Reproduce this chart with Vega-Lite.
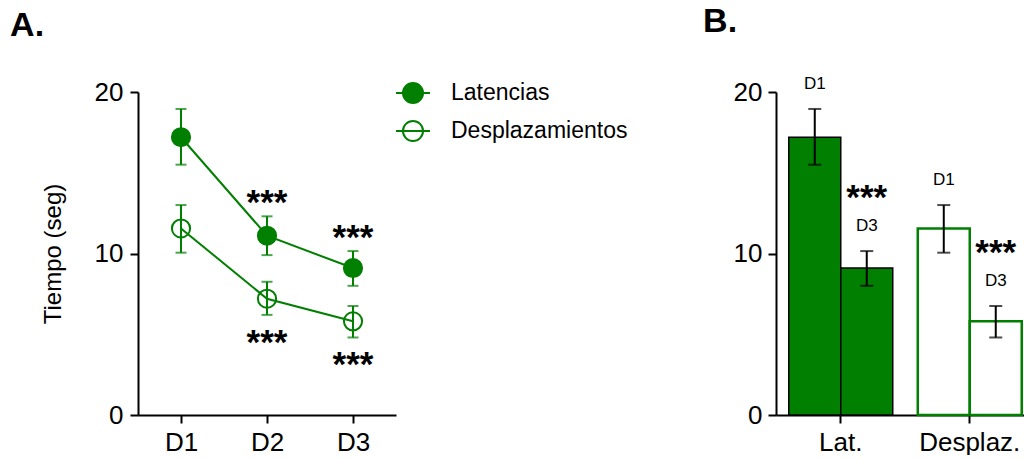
{
  "$schema": "https://vega.github.io/schema/vega-lite/v6.json",
  "background": "white",
  "padding": {"left": 10, "top": 4, "right": 0, "bottom": 0},
  "spacing": 307,
  "config": {
    "font": "Liberation Sans",
    "view": {"stroke": null},
    "axis": {
      "domainColor": "black",
      "domainWidth": 2,
      "tickColor": "black",
      "tickWidth": 2,
      "tickSize": 8,
      "labelFont": "Liberation Sans",
      "labelFontSize": 26,
      "labelColor": "black",
      "grid": false,
      "titleFont": "Liberation Sans",
      "titleFontWeight": "normal",
      "titleFontSize": 24,
      "titleColor": "black"
    },
    "title": {
      "font": "Liberation Sans",
      "fontSize": 34,
      "fontWeight": "bold",
      "color": "black",
      "anchor": "start",
      "frame": "bounds",
      "offset": 36
    }
  },
  "datasets": {
    "tiempos": [
      {"serie": "Latencias", "grupo": "Lat.", "dia": "D1", "media": 17.2, "inf": 15.5, "sup": 18.95, "sig": ""},
      {"serie": "Latencias", "grupo": "Lat.", "dia": "D2", "media": 11.1, "inf": 9.9, "sup": 12.3, "sig": "***"},
      {"serie": "Latencias", "grupo": "Lat.", "dia": "D3", "media": 9.1, "inf": 8.0, "sup": 10.15, "sig": "***"},
      {"serie": "Desplazamientos", "grupo": "Desplaz.", "dia": "D1", "media": 11.55, "inf": 10.05, "sup": 13.0, "sig": ""},
      {"serie": "Desplazamientos", "grupo": "Desplaz.", "dia": "D2", "media": 7.2, "inf": 6.2, "sup": 8.25, "sig": "***"},
      {"serie": "Desplazamientos", "grupo": "Desplaz.", "dia": "D3", "media": 5.8, "inf": 4.8, "sup": 6.75, "sig": "***"}
    ]
  },
  "hconcat": [
    {
      "title": {"text": "A.", "dx": -31},
      "width": 258,
      "height": 323,
      "data": {"name": "tiempos"},
      "encoding": {
        "x": {
          "field": "dia",
          "type": "ordinal",
          "scale": {"type": "point", "padding": 0.5},
          "axis": {"title": null, "labelAngle": 0, "labelPadding": 6}
        }
      },
      "layer": [
        {
          "mark": {"type": "rule", "color": "#007f00", "strokeWidth": 2},
          "encoding": {
            "y": {
              "field": "inf",
              "type": "quantitative",
              "scale": {"domain": [0, 20], "nice": false},
              "axis": {"title": "Tiempo (seg)", "values": [0, 10, 20], "labelPadding": 7, "titlePadding": 29}
            },
            "y2": {"field": "sup"}
          }
        },
        {
          "mark": {"type": "tick", "orient": "horizontal", "color": "#007f00", "size": 11, "thickness": 2},
          "encoding": {"y": {"field": "sup", "type": "quantitative"}}
        },
        {
          "mark": {"type": "tick", "orient": "horizontal", "color": "#007f00", "size": 11, "thickness": 2},
          "encoding": {"y": {"field": "inf", "type": "quantitative"}}
        },
        {
          "mark": {"type": "line", "color": "#007f00", "strokeWidth": 2},
          "encoding": {
            "y": {"field": "media", "type": "quantitative"},
            "detail": {"field": "serie", "type": "nominal"}
          }
        },
        {
          "mark": {"type": "point", "shape": "circle", "size": 330, "stroke": "#007f00", "strokeWidth": 2, "opacity": 1},
          "encoding": {
            "y": {"field": "media", "type": "quantitative"},
            "fill": {
              "field": "serie",
              "type": "nominal",
              "scale": {"domain": ["Latencias", "Desplazamientos"], "range": ["#007f00", "transparent"]},
              "legend": {
                "title": null,
                "orient": "none",
                "legendX": 257,
                "legendY": -17,
                "padding": 0,
                "symbolType": "M-1,0H1M-0.59,0A0.59,0.59,0,1,1,0.59,0A0.59,0.59,0,1,1,-0.59,0Z",
                "symbolSize": 1156,
                "symbolStrokeWidth": 2,
                "symbolStrokeColor": "#007f00",
                "symbolOffset": 0,
                "labelFont": "Liberation Sans",
                "labelFontSize": 23,
                "labelColor": "black",
                "labelOffset": 20,
                "labelLimit": 400,
                "rowPadding": 5
              }
            }
          }
        },
        {
          "transform": [{"filter": "datum.serie === 'Latencias'"}],
          "mark": {"type": "text", "fontSize": 35, "fontWeight": "bold", "color": "black", "baseline": "middle", "dy": -13},
          "encoding": {
            "y": {"field": "sup", "type": "quantitative"},
            "text": {"field": "sig"}
          }
        },
        {
          "transform": [{"filter": "datum.serie === 'Desplazamientos'"}],
          "mark": {"type": "text", "fontSize": 35, "fontWeight": "bold", "color": "black", "baseline": "middle", "dy": 28},
          "encoding": {
            "y": {"field": "inf", "type": "quantitative"},
            "text": {"field": "sig"}
          }
        }
      ]
    },
    {
      "title": {"text": "B.", "dx": -30},
      "width": 250,
      "height": 323,
      "data": {"name": "tiempos"},
      "transform": [{"filter": "datum.dia !== 'D2'"}],
      "encoding": {
        "x": {
          "field": "grupo",
          "type": "nominal",
          "sort": ["Lat.", "Desplaz."],
          "scale": {"paddingInner": 0.194, "paddingOuter": 0.066, "align": 0.75},
          "axis": {"title": null, "labelAngle": 0, "labelPadding": 6}
        },
        "xOffset": {"field": "dia", "type": "nominal", "sort": ["D1", "D3"]}
      },
      "layer": [
        {
          "mark": {"type": "bar"},
          "encoding": {
            "y": {
              "field": "media",
              "type": "quantitative",
              "scale": {"domain": [0, 20], "nice": false},
              "axis": {"title": null, "values": [0, 10, 20], "labelPadding": 6}
            },
            "fill": {"condition": {"test": "datum.serie === 'Latencias'", "value": "#007f00"}, "value": "white"},
            "stroke": {"condition": {"test": "datum.serie === 'Latencias'", "value": "black"}, "value": "#007f00"},
            "strokeWidth": {"condition": {"test": "datum.serie === 'Latencias'", "value": 1.5}, "value": 2.5}
          }
        },
        {
          "mark": {"type": "rule", "color": "black", "strokeWidth": 2},
          "encoding": {
            "y": {"field": "inf", "type": "quantitative"},
            "y2": {"field": "sup"}
          }
        },
        {
          "mark": {"type": "tick", "orient": "horizontal", "color": "black", "size": 13, "thickness": 2},
          "encoding": {"y": {"field": "sup", "type": "quantitative"}}
        },
        {
          "mark": {"type": "tick", "orient": "horizontal", "color": "black", "size": 13, "thickness": 2},
          "encoding": {"y": {"field": "inf", "type": "quantitative"}}
        },
        {
          "mark": {"type": "text", "fontSize": 17, "color": "black", "baseline": "middle", "dy": -25},
          "encoding": {
            "y": {"field": "sup", "type": "quantitative"},
            "text": {"field": "dia"}
          }
        },
        {
          "transform": [{"filter": "datum.dia === 'D3'"}],
          "mark": {"type": "text", "fontSize": 35, "fontWeight": "bold", "color": "black", "baseline": "middle", "dy": -53},
          "encoding": {
            "y": {"field": "sup", "type": "quantitative"},
            "text": {"field": "sig"}
          }
        }
      ]
    }
  ]
}
